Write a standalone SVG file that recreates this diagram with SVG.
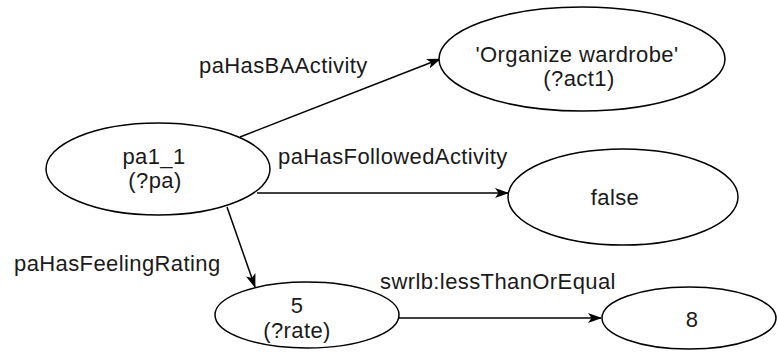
<svg xmlns="http://www.w3.org/2000/svg" width="777" height="353" viewBox="0 0 777 353">
  <style>
    .node { fill: #ffffff; stroke: #000000; stroke-width: 1.5; }
    .edge { fill: none; stroke: #000000; stroke-width: 1.5; }
    text { font-family: "Liberation Sans", Arial, sans-serif; font-size: 22px; letter-spacing: 0.4px; fill: #1a1a1a; }
    .c { text-anchor: middle; }
  </style>
  <defs>
    <marker id="arrow" viewBox="0 0 14 10" refX="13" refY="5" markerWidth="14" markerHeight="10" markerUnits="userSpaceOnUse" orient="auto">
      <path d="M0,0 L14,5 L0,10 L3.5,5 Z" fill="#000000"/>
    </marker>
  </defs>

  <rect width="777" height="353" fill="#ffffff"/>

  <g id="connectors">
    <line class="edge" x1="240" y1="137" x2="440" y2="59" marker-end="url(#arrow)"/>
    <line class="edge" x1="257" y1="193" x2="508" y2="193" marker-end="url(#arrow)"/>
    <line class="edge" x1="227" y1="207" x2="255" y2="287" marker-end="url(#arrow)"/>
    <line class="edge" x1="399" y1="318" x2="601" y2="318" marker-end="url(#arrow)"/>
    <text x="199" y="73">paHasBAActivity</text>
    <text x="278" y="164">paHasFollowedActivity</text>
    <text x="14" y="271">paHasFeelingRating</text>
    <text x="380" y="289">swrlb:lessThanOrEqual</text>
  </g>

  <g id="node-pa">
    <ellipse class="node" cx="158" cy="169" rx="112" ry="46"/>
    <text class="c" x="154" y="164">pa1_1</text>
    <text class="c" x="155" y="188">(?pa)</text>
  </g>

  <g id="node-act">
    <ellipse class="node" cx="582" cy="59" rx="143" ry="52"/>
    <text class="c" x="577" y="62">'Organize wardrobe'</text>
    <text class="c" x="579" y="86">(?act1)</text>
  </g>

  <g id="node-false">
    <ellipse class="node" cx="623" cy="197" rx="115" ry="48"/>
    <text class="c" x="615" y="205">false</text>
  </g>

  <g id="node-rate">
    <ellipse class="node" cx="307" cy="315" rx="92" ry="33"/>
    <text class="c" x="297" y="313">5</text>
    <text class="c" x="297" y="338">(?rate)</text>
  </g>

  <g id="node-eight">
    <ellipse class="node" cx="689" cy="318" rx="87" ry="31"/>
    <text class="c" x="692" y="327">8</text>
  </g>
</svg>
